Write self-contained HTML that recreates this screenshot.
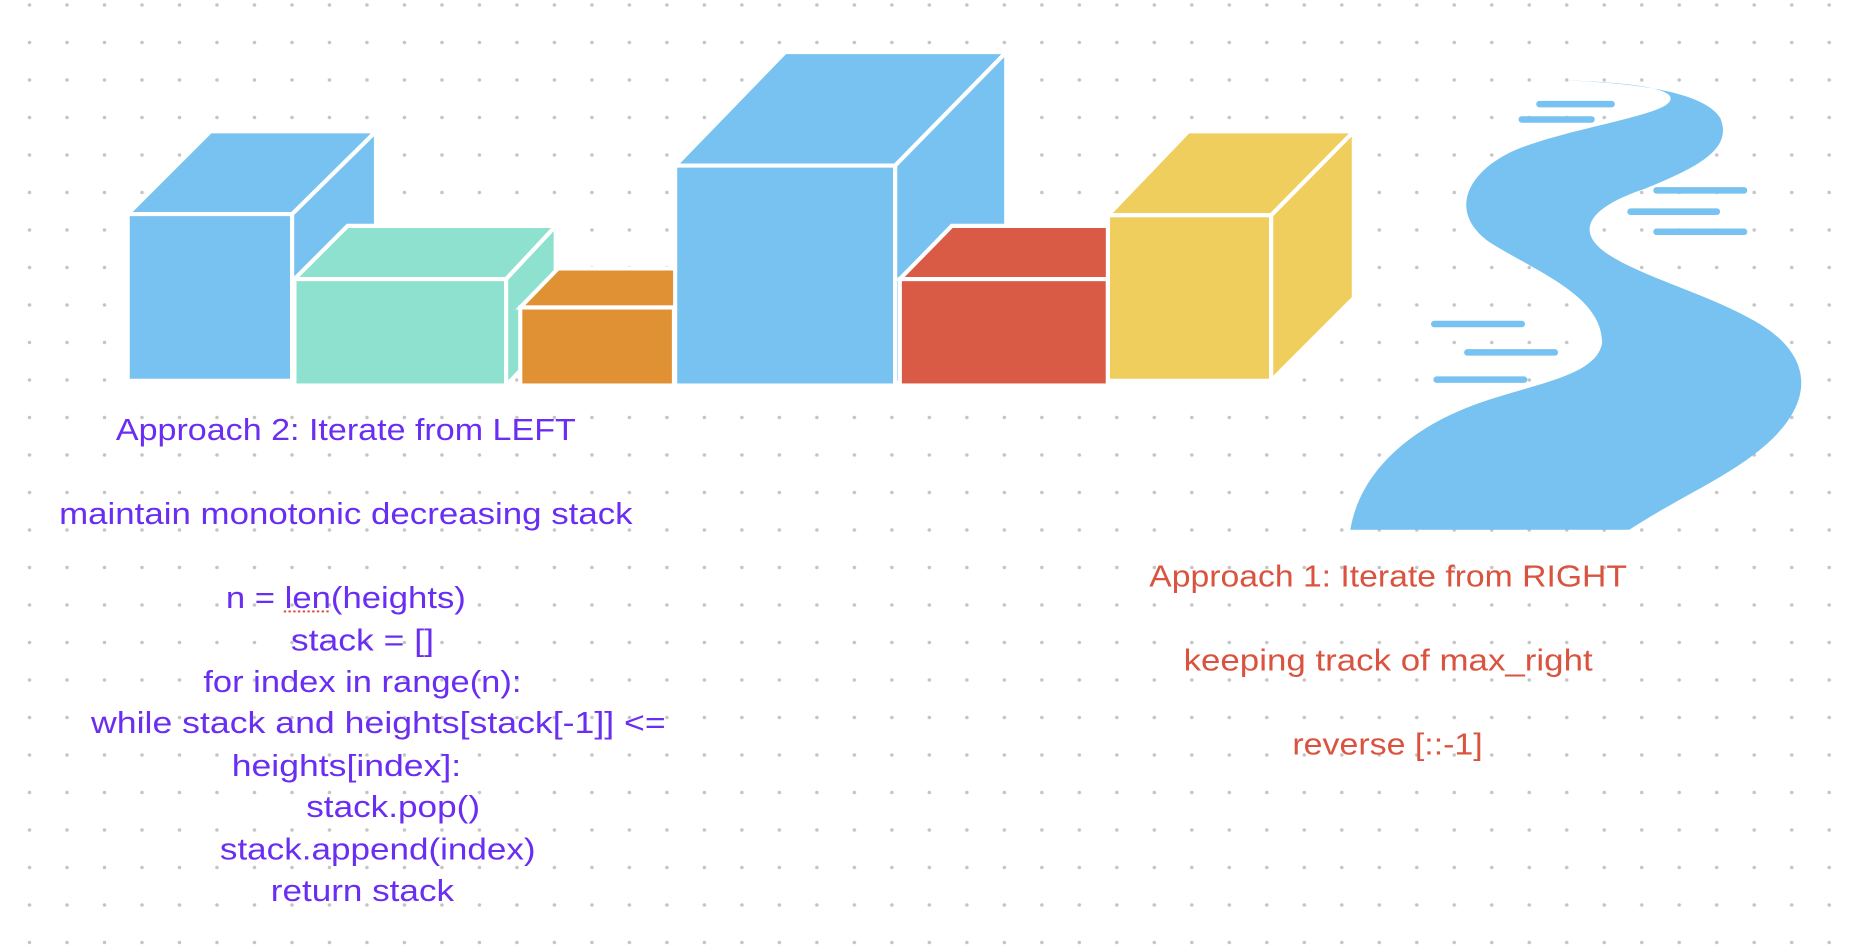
<!DOCTYPE html>
<html><head><meta charset="utf-8"><style>
html,body{margin:0;padding:0;background:#fff;}
svg{display:block;}
text{font-family:"Liberation Sans",sans-serif;font-size:26px;}
.p{fill:#6a2ef2;}
.r{fill:#d9533f;}
</style></head><body>
<svg width="1854" height="952" viewBox="0 0 1568 805" preserveAspectRatio="none" xmlns="http://www.w3.org/2000/svg">
<defs>
<pattern id="dots" x="24.95" y="4.2" width="31.71" height="31.71" patternUnits="userSpaceOnUse">
<circle cx="0" cy="0" r="1.5" fill="#c4c4c4"/>
<circle cx="31.71" cy="0" r="1.5" fill="#c4c4c4"/>
<circle cx="0" cy="31.71" r="1.5" fill="#c4c4c4"/>
<circle cx="31.71" cy="31.71" r="1.5" fill="#c4c4c4"/>
</pattern>
</defs>
<rect x="0" y="0" width="1568" height="805" fill="url(#dots)"/>

<g stroke="#fff" stroke-width="3.5" stroke-linejoin="miter">
<g fill="#77c2f0">
<polygon points="247,181 318,111 318,252 247,322"/>
<polygon points="108,181 178,111 318,111 247,181"/>
<rect x="108" y="181" width="139" height="141"/>
</g>
<g fill="#8ee0cf">
<polygon points="428,236 470,191 470,282 428,326"/>
<polygon points="249,236 294,191 470,191 428,236"/>
<rect x="249" y="236" width="179" height="90"/>
</g>
<g fill="#e09134">
<polygon points="440,260 472,227 600,227 570,260"/>
<rect x="440" y="260" width="130" height="66"/>
</g>
<g fill="#77c2f0">
<polygon points="757,140 851,44 851,240 757,326"/>
<polygon points="571,140 664,44 851,44 757,140"/>
<rect x="571" y="140" width="186" height="186"/>
</g>
<g fill="#d95a45">
<polygon points="761,236 805,191 960,191 937,236"/>
<rect x="761" y="236" width="176" height="90"/>
</g>
<g fill="#efce5e">
<polygon points="1075,182 1145,111 1145,252 1075,322"/>
<polygon points="937,182 1005,111 1145,111 1075,182"/>
<rect x="937" y="182" width="138" height="140"/>
</g>
</g>

<path fill="#77c2f0" d="M1325,68 C1380,70 1425,75 1410,88 C1395,100 1310,112 1275,130 C1240,148 1225,180 1260,205 C1300,230 1355,250 1355,290 C1350,320 1290,325 1240,345 C1190,365 1150,400 1142,448 L1378,448 C1420,420 1470,400 1500,370 C1535,335 1530,300 1490,275 C1450,250 1390,235 1360,215 C1330,195 1345,175 1390,160 C1440,140 1465,125 1455,100 C1440,75 1370,70 1325,68 Z"/>
<g stroke="#77c2f0" stroke-width="5.5" stroke-linecap="round">
<line x1="1302" y1="88" x2="1363" y2="88"/>
<line x1="1287" y1="101" x2="1346" y2="101"/>
<line x1="1401" y1="161" x2="1475" y2="161"/>
<line x1="1379" y1="179" x2="1452" y2="179"/>
<line x1="1401" y1="196" x2="1475" y2="196"/>
<line x1="1213" y1="274" x2="1287" y2="274"/>
<line x1="1241" y1="298" x2="1315" y2="298"/>
<line x1="1215" y1="321" x2="1289" y2="321"/>
</g>

<g>
<text class="p" x="98" y="372" textLength="389" lengthAdjust="spacingAndGlyphs">Approach 2: Iterate from LEFT</text>
<text class="p" x="50" y="443" textLength="485" lengthAdjust="spacingAndGlyphs">maintain monotonic decreasing stack</text>
<text class="p" x="191" y="514" textLength="203" lengthAdjust="spacingAndGlyphs">n = len(heights)</text>
<text class="p" x="246" y="550" textLength="121" lengthAdjust="spacingAndGlyphs">stack = []</text>
<text class="p" x="172" y="585" textLength="269" lengthAdjust="spacingAndGlyphs">for index in range(n):</text>
<text class="p" x="77" y="620" textLength="486" lengthAdjust="spacingAndGlyphs">while stack and heights[stack[-1]] &lt;=</text>
<text class="p" x="196" y="656" textLength="194" lengthAdjust="spacingAndGlyphs">heights[index]:</text>
<text class="p" x="259" y="691" textLength="147" lengthAdjust="spacingAndGlyphs">stack.pop()</text>
<text class="p" x="186" y="727" textLength="267" lengthAdjust="spacingAndGlyphs">stack.append(index)</text>
<text class="p" x="229" y="762" textLength="155" lengthAdjust="spacingAndGlyphs">return stack</text>
<line x1="240" y1="517" x2="278" y2="517" stroke="#e0452f" stroke-width="1.6" stroke-dasharray="2,2"/>
</g>

<g>
<text class="r" x="972" y="496" textLength="404" lengthAdjust="spacingAndGlyphs">Approach 1: Iterate from RIGHT</text>
<text class="r" x="1001" y="567" textLength="346" lengthAdjust="spacingAndGlyphs">keeping track of max_right</text>
<text class="r" x="1093" y="638" textLength="161" lengthAdjust="spacingAndGlyphs">reverse [::-1]</text>
</g>
</svg>
</body></html>
